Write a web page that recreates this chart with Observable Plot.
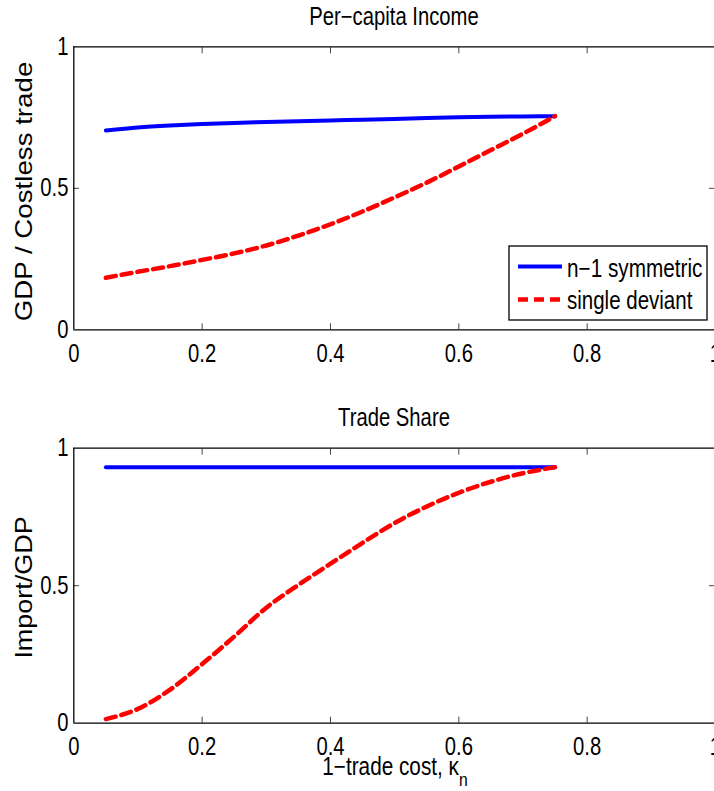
<!DOCTYPE html>
<html>
<head>
<meta charset="utf-8">
<script src="https://cdn.jsdelivr.net/npm/d3@7"></script>
<script src="https://cdn.jsdelivr.net/npm/@observablehq/plot@0.6"></script>
<style>
  html, body { margin: 0; padding: 0; background: #fff; overflow: hidden; }
  #chart { width: 714px; height: 791px; position: relative; }
  #chart svg { display: block; }
</style>
</head>
<body>
<div id="chart"></div>
<script>
// ---- data ----
const kappa = [0.05, 0.10, 0.15, 0.20, 0.25, 0.30, 0.35, 0.40, 0.45, 0.50, 0.55, 0.60, 0.65, 0.70, 0.75];
const incomeSymmetric = [0.704, 0.715, 0.722, 0.727, 0.731, 0.734, 0.737, 0.740, 0.742, 0.745, 0.748, 0.751, 0.753, 0.754, 0.755];
const incomeDeviant   = [0.184, 0.205, 0.225, 0.247, 0.270, 0.298, 0.333, 0.373, 0.418, 0.468, 0.520, 0.577, 0.635, 0.693, 0.755];
const tradeSymmetric  = [0.931, 0.931, 0.931, 0.931, 0.931, 0.931, 0.931, 0.931, 0.931, 0.931, 0.931, 0.931, 0.931, 0.931, 0.931];
const tradeDeviant    = [0.015, 0.052, 0.122, 0.215, 0.315, 0.420, 0.503, 0.580, 0.656, 0.728, 0.788, 0.838, 0.878, 0.909, 0.931];
const xTicks = [0, 0.2, 0.4, 0.6, 0.8, 1];
const yTicks = [0, 0.5, 1];
const seriesNames = ["n\u22121 symmetric", "single deviant"];
const titles = ["Per\u2212capita Income", "Trade Share"];
const yLabels = ["GDP / Costless trade", "Import/GDP"];

const FONT = "'Liberation Sans', Arial, Helvetica, sans-serif";
const BLUE = "#0000ff", RED = "#ff0000";
const SQUEEZE = 0.81;   // reference glyphs are horizontally condensed

function panel({sym, dev, height, marginTop, marginBottom}) {
  const rows = kappa.map((k, i) => ({k, sym: sym[i], dev: dev[i]}));
  const inner = xTicks.filter(t => t > 0 && t < 1);
  return Plot.plot({
    width: 714, height, marginLeft: 73, marginRight: 0, marginTop, marginBottom,
    x: {domain: [0, 1], range: [73.3, 715]},
    y: {domain: [0, 1]},
    style: {fontFamily: FONT, fontSize: "25px", color: "#000", background: "#fff", overflow: "visible"},
    marks: [
      Plot.line(rows, {x: "k", y: "sym", stroke: BLUE, strokeWidth: 4, curve: "monotone-x"}),
      Plot.line(rows, {x: "k", y: "dev", stroke: RED, strokeWidth: 4.5, strokeDasharray: "10,6", curve: "monotone-x"}),
      // inward ticks
      Plot.axisX(inner, {anchor: "bottom", tickSize: -6, stroke: "#444", tickFormat: () => "", label: null}),
      Plot.axisX(inner, {anchor: "top", tickSize: -6, stroke: "#444", tickFormat: () => "", label: null}),
      Plot.axisY([0.5], {anchor: "left", tickSize: -6, stroke: "#444", tickFormat: () => "", label: null}),
      Plot.axisY([0.5], {anchor: "right", tickSize: -6, stroke: "#444", tickFormat: () => "", label: null}),
      // tick labels
      Plot.axisX(xTicks, {anchor: "bottom", tickSize: 0, tickPadding: 14, tickFormat: d => String(d), label: null}),
      Plot.axisY(yTicks, {anchor: "left", tickSize: 0, tickPadding: 5, tickFormat: d => String(d), label: null}),
      // box
      Plot.ruleY([0, 1], {y: d => d, x1: () => 0, x2: () => 1, stroke: "#000", strokeWidth: 1.3}),
      Plot.ruleX([0, 1], {x: d => d, y1: () => 0, y2: () => 1, stroke: "#000", strokeWidth: 1.3})
    ]
  });
}

const topSvg = panel({sym: incomeSymmetric, dev: incomeDeviant, height: 390, marginTop: 46.3, marginBottom: 60.7});
const bottomSvg = panel({sym: tradeSymmetric, dev: tradeDeviant, height: 401, marginTop: 57.7, marginBottom: 68.3});
document.getElementById("chart").append(topSvg, bottomSvg);

function squeeze(el, factor) {
  const L = el.getComputedTextLength();
  if (L > 0) {
    el.setAttribute("textLength", (L * factor).toFixed(2));
    el.setAttribute("lengthAdjust", "spacingAndGlyphs");
  }
}
// condense Plot's tick labels
for (const svg of [topSvg, bottomSvg]) {
  svg.querySelectorAll("text").forEach(t => { if (t.textContent) squeeze(t, SQUEEZE); });
}

function addTitle(svg, text, baseline) {
  const t = d3.select(svg).append("text").attr("x", 394).attr("y", baseline)
    .attr("text-anchor", "middle").attr("font-family", FONT).attr("font-size", 25).attr("fill", "#000").text(text);
  squeeze(t.node(), SQUEEZE);
}
function addYLabel(svg, text, cy, stretch) {
  const t = d3.select(svg).append("text").attr("transform", `translate(31.5,${cy}) rotate(-90)`)
    .attr("text-anchor", "middle").attr("font-family", FONT).attr("font-size", 24.5).attr("fill", "#000").text(text);
  squeeze(t.node(), stretch);
}
addTitle(topSvg, titles[0], 25);
addTitle(bottomSvg, titles[1], 36);
addYLabel(topSvg, yLabels[0], 191.5, 1.13);
addYLabel(bottomSvg, yLabels[1], 197.5, 1.1);

// x label with subscript
const xl = d3.select(bottomSvg).append("text").attr("transform", "translate(395,385) scale(0.83,1)")
  .attr("text-anchor", "middle").attr("font-family", FONT).attr("font-size", 25).attr("fill", "#000");
xl.append("tspan").text("1\u2212trade cost, \u03ba");
xl.append("tspan").attr("dy", 11).attr("font-size", 19).text("n");

// legend (top panel)
const lg = d3.select(topSvg).append("g").attr("font-family", FONT).attr("font-size", 25).attr("text-anchor", "start");
lg.append("rect").attr("x", 509).attr("y", 246).attr("width", 198).attr("height", 74)
  .attr("fill", "#fff").attr("stroke", "#000").attr("stroke-width", 1.3);
lg.append("line").attr("x1", 518).attr("x2", 562).attr("y1", 266.5).attr("y2", 266.5)
  .attr("stroke", BLUE).attr("stroke-width", 4);
lg.append("line").attr("x1", 518).attr("x2", 562).attr("y1", 299.5).attr("y2", 299.5)
  .attr("stroke", RED).attr("stroke-width", 4.5).attr("stroke-dasharray", "10,6");
const l1 = lg.append("text").attr("x", 567).attr("y", 277).attr("fill", "#000").text(seriesNames[0]);
const l2 = lg.append("text").attr("x", 567).attr("y", 309).attr("fill", "#000").text(seriesNames[1]);
squeeze(l1.node(), 0.83);
squeeze(l2.node(), 0.82);
</script>
</body>
</html>
